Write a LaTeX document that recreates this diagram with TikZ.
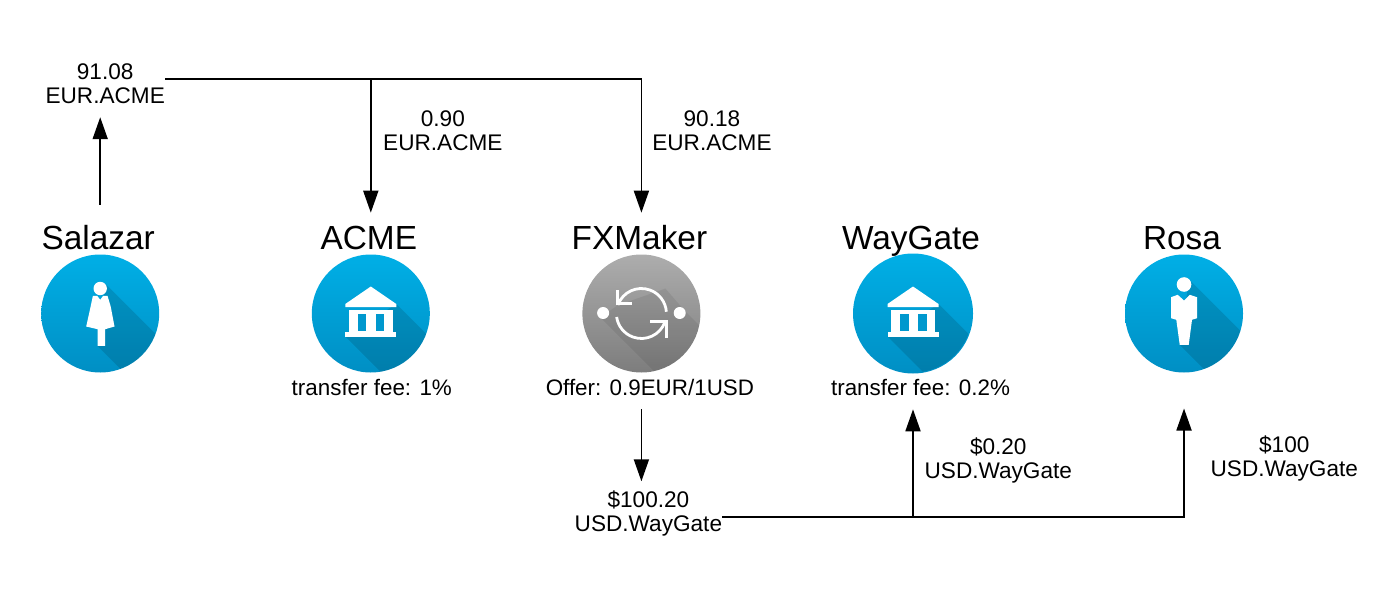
\documentclass[tikz,border=0pt]{standalone}
\usepackage{fontspec}
\setmainfont{Liberation Sans}
\usetikzlibrary{arrows.meta, calc, positioning}
\definecolor{iconbluetop}{HTML}{00AFE6}
\definecolor{iconbluebottom}{HTML}{008FC4}
\definecolor{icongreytop}{HTML}{ADADAD}
\definecolor{icongreybottom}{HTML}{7D7D7D}
\definecolor{windowblue}{HTML}{0098CE}
\tikzstyle{party} = [circle, minimum size=59pt, inner sep=0pt, outer sep=0pt, top color=iconbluetop, bottom color=iconbluebottom]
\tikzstyle{maker} = [party, top color=icongreytop, bottom color=icongreybottom]
\tikzstyle{title} = [inner sep=0pt, text height=18.25pt, text depth=2.25pt, xshift=-1pt, font=\fontsize{16.7}{20}\selectfont]
\tikzstyle{fee} = [inner sep=0pt, text height=11.5pt, text depth=6.5pt, font=\fontsize{11.2}{12}\selectfont]
\tikzstyle{amount} = [align=center, inner xsep=0pt, inner ysep=7pt, font=\fontsize{11.3}{12}\selectfont]
\tikzstyle{support} = [coordinate]
\tikzstyle{arrow} = [line width=0.9pt,-{Triangle[length=11pt,width=7.5pt]}]
\tikzstyle{longshadow} = [fill=black, fill opacity=0.12]
\tikzstyle{glyph} = [fill=white, draw=none]
\tikzstyle{swapline} = [white, line width=1.4pt]
\newcommand{\bankicon}[1]{
	\begin{scope}[shift={(#1.center)}]
		\begin{scope}
			\clip (0,0) circle [radius=59];
			\fill [longshadow] (25.5,-9.5) -- (125.5,90.5) -- (74.5,123) -- (-25.5,23) -- cycle;
		\end{scope}
		\fill [glyph] (0,-27) -- (25.5,-9.5) -- (25.5,-6.5) -- (-25.5,-6.5) -- (-25.5,-9.5) -- cycle;
		\fill [glyph] (-22,-3.5) rectangle (22,18);
		\fill [glyph] (-25.5,18) rectangle (25.5,23);
		\fill [windowblue] (-13,0) rectangle (-4.5,17);
		\fill [windowblue] (5,0) rectangle (13.5,17);
	\end{scope}
}
\newcommand{\womanicon}[1]{
	\begin{scope}[shift={(#1.center)}]
		\begin{scope}
			\clip (0,0) circle [radius=59];
			\fill [longshadow] (5,-30) -- (105,70) -- (97.3,132.3) -- (-2.7,32.3) -- cycle;
		\end{scope}
		\fill [glyph] (0,-25) circle [radius=6.7];
		\fill [glyph] (-7.3,-17.7) -- (-3,-17.7) -- (0,-13.7) -- (3,-17.7) -- (7.3,-17.7) -- (10.5,-7) -- (14.3,13) -- (5,15.7) -- (5,32.3) -- (-2.7,32.3) -- (-2.7,15.7) -- (-14,13) -- (-10,-5) -- cycle;
	\end{scope}
}
\newcommand{\manicon}[1]{
	\begin{scope}[shift={(#1.center)}]
		\begin{scope}
			\clip (0,0) circle [radius=59];
			\fill [longshadow] (5,-34) -- (105,66) -- (95.7,131.3) -- (-4.3,31.3) -- cycle;
		\end{scope}
		\fill [glyph] (0,-29) circle [radius=7.3];
		\fill [glyph] (-13,-16.3) -- (-6.3,-18.7) -- (0,-13) -- (5.7,-18.7) -- (13,-16.3) -- (13,4.7) -- (8,6.3) -- (4.7,31.3) -- (-4.3,31.3) -- (-7.7,6.3) -- (-13,4.7) -- cycle;
	\end{scope}
}
\newcommand{\swapicon}[1]{
	\begin{scope}[shift={(#1.center)}]
		\begin{scope}
			\clip (0,0) circle [radius=59];
			\fill [fill=black, fill opacity=0.07] (-41,4) -- (-24,-8) -- (24,-25) -- (43,-3) -- (143,97) -- (59,104) -- cycle;
		\end{scope}
		\fill [glyph] (-38.3,-0.5) circle [radius=6];
		\fill [glyph] (38.3,-0.5) circle [radius=6];
		\draw [swapline] (-160:25) arc [start angle=-160, end angle=-4, radius=25];
		\draw [swapline] (20:25) arc [start angle=20, end angle=172, radius=25];
		\draw [swapline] (-24,-23.5) -- (-24,-10.2) -- (-9.3,-10.2);
		\draw [swapline] (25,24.5) -- (25,8.2) -- (9,8.2);
	\end{scope}
}
\begin{document}
\begin{tikzpicture}[x=0.5pt, y=-0.5pt]
	\useasboundingbox (0,0) rectangle (1400,604);
	\node (Salazar) [party] at (100.2,313.5) {};
	\node (ACME) [party, right = 76.3pt of Salazar] {};
	\node (FXMaker) [maker, right = 76.3pt of ACME] {};
	\node (WayGate) [party, minimum size=60pt, right = 76.3pt of FXMaker] {};
	\node (Rosa) [party, right = 76pt of WayGate] {};
	\womanicon{Salazar}
	\bankicon{ACME}
	\swapicon{FXMaker}
	\bankicon{WayGate}
	\manicon{Rosa}
	\node (SalazarTitle) [title, above = 0pt of Salazar] {Salazar};
	\node (ACMETitle) [title, above = 0pt of ACME] {ACME};
	\node (FXMakerTitle) [title, above = 0pt of FXMaker] {FXMaker};
	\node (WayGateTitle) [title, above = -0.5pt of WayGate] {WayGate};
	\node (RosaTitle) [title, above = 0pt of Rosa] {Rosa};
	\node (ACMEFee) [fee, below = 0pt of ACME, xshift=0.5pt] {transfer fee: 1\%};
	\node (FXMakerOffer) [fee, below = 0pt of FXMaker, xshift=4.25pt] {Offer: 0.9EUR/1USD};
	\node (WayGateFee) [fee, below = -0.5pt of WayGate, xshift=3.75pt] {transfer fee: 0.2\%};
	\node (RosaFoot) [support, below = 18pt of Rosa] {};
	\node (SalazarAmount) [amount, inner ysep=6.5pt, above = 47.75pt of Salazar |- SalazarTitle.north, xshift=2.5pt] {91.08\\EUR.ACME};
	\node (ACMEAmount) [amount, above right = 24pt and 6pt of ACME |- ACMETitle.north] {0.90\\EUR.ACME};
	\node (FXMakerIn) [amount, above right = 24pt and 5.25pt of FXMaker |- FXMakerTitle.north] {90.18\\EUR.ACME};
	\node (FXMakerAmount) [amount, inner ysep=4.5pt, below = 36pt of FXMaker |- FXMakerOffer.south, xshift=3.5pt] {\$100.20\\USD.WayGate};
	\node (WayGateAmount) [amount, below right = 7pt and 5.6pt of WayGate |- WayGateFee.south] {\$0.20\\USD.WayGate};
	\node (RosaAmount) [amount, below right = 6.5pt and 13.1pt of RosaFoot] {\$100\\USD.WayGate};
	\node (TopLine) [support, yshift=2.5pt] at (SalazarAmount.east) {};
	\node (BottomLine) [support, yshift=-1.75pt] at (FXMakerAmount.east) {};
	\draw [arrow, shorten <=4pt] (Salazar |- SalazarTitle.north) -- (Salazar |- SalazarAmount.south);
	\draw [arrow] (TopLine) -| (FXMaker |- FXMakerTitle.north);
	\draw [arrow] (TopLine -| ACME) -- (ACME |- ACMETitle.north);
	\draw [arrow] (FXMaker |- FXMakerOffer.south) -- (FXMaker |- FXMakerAmount.north);
	\draw [arrow] (BottomLine) -| (RosaFoot);
	\draw [arrow] (BottomLine -| WayGate) -- (WayGate |- WayGateFee.south);
\end{tikzpicture}
\end{document}
